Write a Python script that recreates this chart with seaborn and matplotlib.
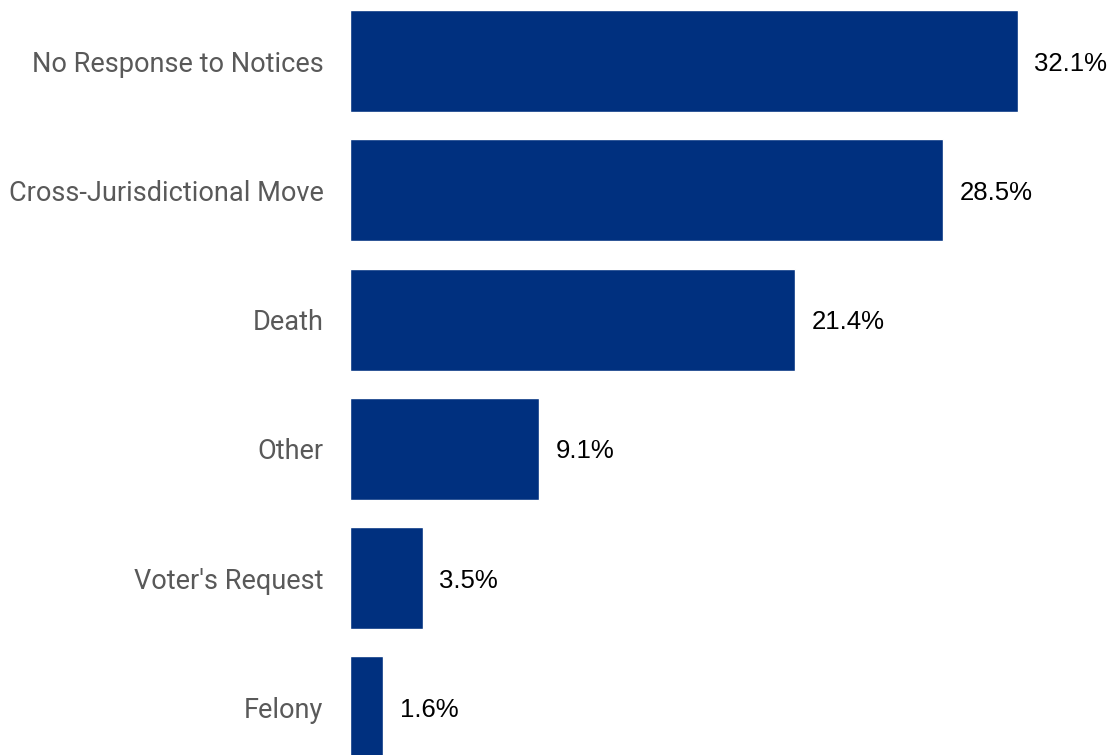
import matplotlib
matplotlib.use("Agg")
import matplotlib.pyplot as plt
import seaborn as sns
import pandas as pd

# data
categories = ["No Response to Notices", "Cross-Jurisdictional Move", "Death",
              "Other", "Voter's Request", "Felony"]
shares = [32.1, 28.5, 21.4, 9.1, 3.5, 1.6]

BAR_COLOR = "#00307F"
LABEL_COLOR = "#595959"

df = pd.DataFrame({"reason": categories, "share": shares})

sns.set_style("white")

fig = plt.figure(figsize=(11.09, 7.55), dpi=100)
ax = fig.add_axes([350 / 1109, 0, 759 / 1109, 1])

sns.barplot(data=df, y="reason", x="share", orient="h", color=BAR_COLOR,
            saturation=1, width=0.79, ax=ax)

for i, v in enumerate(shares):
    ax.annotate(f"{v}%", xy=(v, i), xytext=(12, 0), textcoords="offset points",
                va="center_baseline", ha="left", fontsize=18.5, color="black",
                family="Liberation Sans")

ax.set_xlim(0, 36.5)
ax.set_ylim(5.367, -0.472)
ax.set_xlabel("")
ax.set_ylabel("")
ax.set_xticks([])
ax.tick_params(axis="y", length=0, pad=19)
for lbl in ax.get_yticklabels():
    lbl.set_fontsize(19.5)
    lbl.set_color(LABEL_COLOR)
    lbl.set_family("Roboto")
sns.despine(ax=ax, left=True, bottom=True)

fig.savefig("out.png", dpi=100)
